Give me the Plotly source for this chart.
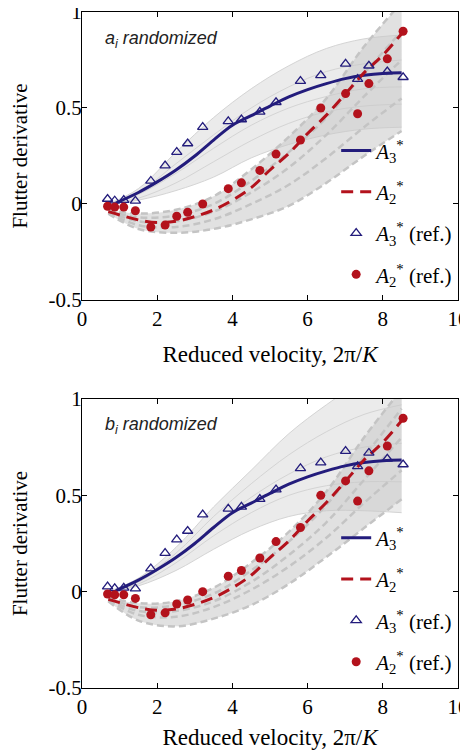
import plotly.graph_objects as go
from plotly.subplots import make_subplots

# reference points (same in both panels)
V_REF = [0.68, 0.87, 1.11, 1.42, 1.83, 2.21, 2.52, 2.81, 3.21, 3.89, 4.24, 4.73, 5.16, 5.81, 6.35, 7.01, 7.33, 7.63, 8.12, 8.54]
A3_REF = [0.026, 0.017, 0.02, 0.016, 0.12, 0.20, 0.27, 0.315, 0.40, 0.43, 0.44, 0.48, 0.53, 0.64, 0.67, 0.73, 0.65, 0.72, 0.69, 0.66]
A2_REF = [-0.012, -0.016, -0.016, -0.035, -0.12, -0.11, -0.064, -0.043, 0.0, 0.08, 0.11, 0.175, 0.26, 0.333, 0.50, 0.575, 0.47, 0.627, 0.756, 0.90]

# identified curves
V_FIT3 = [0.9, 1.5, 2.0, 2.5, 3.0, 3.5, 4.0, 4.5, 5.0, 5.5, 6.0, 6.5, 7.0, 7.5, 8.0, 8.5]
A3_FIT = [0.005, 0.06, 0.115, 0.177, 0.25, 0.333, 0.41, 0.46, 0.51, 0.558, 0.596, 0.627, 0.653, 0.67, 0.68, 0.683]
V_FIT2 = [0.7, 1.0, 1.5, 2.0, 2.5, 3.0, 3.5, 4.0, 4.5, 5.0, 5.5, 6.0, 6.5, 7.0, 7.5, 8.0, 8.5]
A2_FIT = [-0.04, -0.057, -0.083, -0.097, -0.09, -0.066, -0.031, 0.02, 0.085, 0.177, 0.263, 0.367, 0.463, 0.572, 0.683, 0.775, 0.887]

# randomized ensembles, sampled at V_GRID (low, middle..., high)
V_GRID = [0.7, 1.5, 2.5, 3.5, 4.5, 5.5, 6.5, 7.5, 8.5]
A3_RAND_A = [
    [0.0, 0.02, 0.07, 0.14, 0.24, 0.31, 0.36, 0.39, 0.40],
    [0.0, 0.03, 0.11, 0.22, 0.33, 0.42, 0.48, 0.51, 0.52],
    [0.0, 0.05, 0.16, 0.29, 0.41, 0.50, 0.56, 0.60, 0.61],
    [0.0, 0.06, 0.21, 0.36, 0.50, 0.61, 0.69, 0.73, 0.75],
    [0.0, 0.08, 0.27, 0.45, 0.60, 0.72, 0.81, 0.86, 0.88],
]
A2_RAND_A = [
    [-0.05, -0.13, -0.15, -0.13, -0.08, -0.01, 0.11, 0.25, 0.38],
    [-0.045, -0.11, -0.12, -0.08, 0.0, 0.10, 0.24, 0.40, 0.55],
    [-0.04, -0.09, -0.09, -0.04, 0.06, 0.19, 0.36, 0.56, 0.75],
    [-0.035, -0.07, -0.06, 0.0, 0.12, 0.27, 0.45, 0.68, 0.90],
    [-0.03, -0.05, -0.03, 0.04, 0.18, 0.35, 0.55, 0.82, 1.05],
]
A3_RAND_B = [
    [0.0, 0.03, 0.11, 0.22, 0.32, 0.39, 0.42, 0.42, 0.41],
    [0.0, 0.04, 0.15, 0.29, 0.41, 0.50, 0.55, 0.57, 0.57],
    [0.0, 0.05, 0.18, 0.34, 0.49, 0.61, 0.70, 0.75, 0.77],
    [0.0, 0.06, 0.20, 0.39, 0.56, 0.71, 0.83, 0.92, 0.97],
    [0.0, 0.07, 0.23, 0.44, 0.63, 0.82, 0.97, 1.10, 1.20],
]
A2_RAND_B = [
    [-0.05, -0.15, -0.18, -0.14, -0.07, 0.04, 0.18, 0.33, 0.48],
    [-0.045, -0.12, -0.13, -0.08, 0.01, 0.13, 0.28, 0.46, 0.63],
    [-0.04, -0.10, -0.10, -0.05, 0.05, 0.19, 0.36, 0.58, 0.80],
    [-0.035, -0.08, -0.07, -0.01, 0.11, 0.26, 0.45, 0.70, 0.95],
    [-0.03, -0.06, -0.05, 0.02, 0.15, 0.31, 0.52, 0.80, 1.05],
]

PANEL_LABELS = ["<i>a<sub>i</sub> randomized</i>", "<i>b<sub>i</sub> randomized</i>"]
Y_TICKS = [-0.5, 0, 0.5, 1]
Y_TICKTEXT = ["-0.5", "0", "0.5", "1"]

NAVY = "#231c7c"
RED = "#b3121c"
SERIF = "Times New Roman, Liberation Serif, serif"

fig = make_subplots(rows=2, cols=1)


def add_panel(row, a3_rand, a2_rand, legend):
    for rand, dash, band, lc, lw in [(a3_rand, "solid", "rgba(215,215,215,0.5)", "#d4d4d4", 1),
                                     (a2_rand, "7px,4px", "rgba(200,200,200,0.55)", "#c4c4c4", 2.5)]:
        fig.add_trace(go.Scatter(x=V_GRID, y=rand[0], mode="lines", line=dict(width=0, shape="spline"),
                                 showlegend=False, hoverinfo="skip"), row=row, col=1)
        fig.add_trace(go.Scatter(x=V_GRID, y=rand[-1], mode="lines", line=dict(width=0, shape="spline"),
                                 fill="tonexty", fillcolor=band, showlegend=False, hoverinfo="skip"),
                      row=row, col=1)
        for ys in rand:
            fig.add_trace(go.Scatter(x=V_GRID, y=ys, mode="lines",
                                     line=dict(color=lc, width=lw, dash=dash, shape="spline"),
                                     showlegend=False, hoverinfo="skip"), row=row, col=1)

    fig.add_trace(go.Scatter(x=V_FIT3, y=A3_FIT, mode="lines", name="<i>A</i><sub>3</sub><sup>*</sup>",
                             line=dict(color=NAVY, width=3, shape="spline"),
                             legend=legend, legendgroup="a3" + legend), row=row, col=1)
    fig.add_trace(go.Scatter(x=V_FIT2, y=A2_FIT, mode="lines", name="<i>A</i><sub>2</sub><sup>*</sup>",
                             line=dict(color=RED, width=3, dash="12px,7px", shape="spline"),
                             legend=legend, legendgroup="a2" + legend), row=row, col=1)
    fig.add_trace(go.Scatter(x=V_REF, y=A3_REF, mode="markers",
                             name="<i>A</i><sub>3</sub><sup>*</sup> (ref.)",
                             marker=dict(symbol="triangle-up-open", size=9, color=NAVY, line=dict(width=1.3)),
                             legend=legend, legendgroup="r3" + legend), row=row, col=1)
    fig.add_trace(go.Scatter(x=V_REF, y=A2_REF, mode="markers",
                             name="<i>A</i><sub>2</sub><sup>*</sup> (ref.)",
                             marker=dict(symbol="circle", size=9, color=RED),
                             legend=legend, legendgroup="r2" + legend), row=row, col=1)


add_panel(1, A3_RAND_A, A2_RAND_A, "legend")
add_panel(2, A3_RAND_B, A2_RAND_B, "legend2")

tick_font = dict(family=SERIF, size=21, color="black")
for row, dom in [(1, [0.574, 1.0]), (2, [0.0, 0.4275])]:
    fig.update_xaxes(range=[0, 10], dtick=2, ticks="inside", ticklen=5, showline=True, mirror="ticks",
                     linecolor="black", linewidth=1, tickcolor="black", showgrid=False, zeroline=False,
                     automargin=False, tickfont=tick_font, ticklabeloverflow="allow",
                     title=dict(text="Reduced velocity, 2π/<i>K</i>", font=dict(family=SERIF, size=23, color="black")),
                     row=row, col=1)
    fig.update_yaxes(range=[-0.5, 1], tickvals=Y_TICKS, ticktext=Y_TICKTEXT, ticks="inside", ticklen=5,
                     showline=True, mirror="ticks", linecolor="black", linewidth=1, tickcolor="black",
                     showgrid=False, zeroline=False, tickfont=tick_font, domain=dom, automargin=False,
                     ticklabeloverflow="allow", ticklabelstandoff=-5,
                     title=dict(text="Flutter derivative", font=dict(family=SERIF, size=21, color="black")),
                     row=row, col=1)

for i, label in enumerate(PANEL_LABELS):
    yref = "y domain" if i == 0 else "y2 domain"
    xref = "x domain" if i == 0 else "x2 domain"
    fig.add_annotation(text=label, xref=xref, yref=yref, x=0.056, y=0.905 if i == 0 else 0.91,
                       xanchor="left", yanchor="middle", showarrow=False,
                       font=dict(family="Liberation Sans", size=18, color="#222222"))

legend_style = dict(font=dict(family=SERIF, size=21, color="black"), bgcolor="rgba(0,0,0,0)",
                    tracegroupgap=11, xanchor="left", yanchor="top", itemwidth=30)
# the page body adds an 8px offset, so the figure is 8px smaller and margins are shifted
fig.update_layout(
    width=460, height=742,
    margin=dict(l=74, r=10, t=4, b=62),
    plot_bgcolor="white", paper_bgcolor="white",
    legend=dict(x=0.676, y=0.825, **legend_style),
    legend2=dict(x=0.676, y=0.252, **legend_style),
)

fig.write_html("out.html")
